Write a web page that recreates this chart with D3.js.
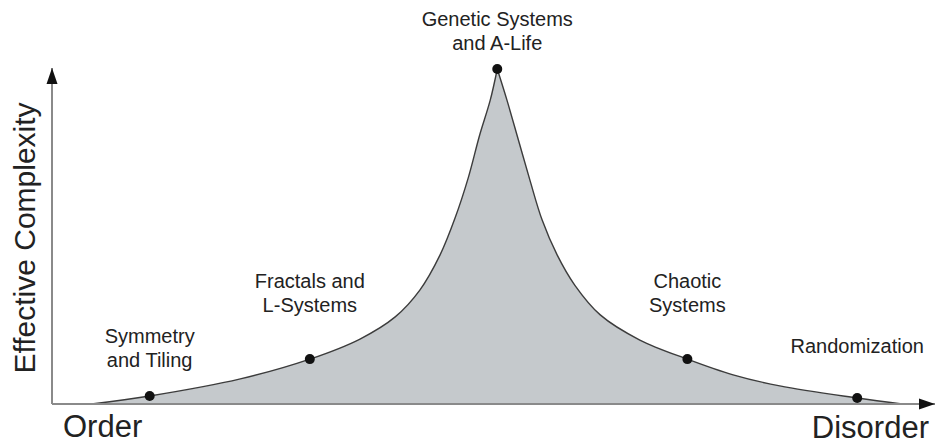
<!DOCTYPE html>
<html lang="en">
<head>
    <meta charset="UTF-8">
    <title>Effective Complexity</title>
    <script type="application/javascript" src="https://cdnjs.cloudflare.com/ajax/libs/d3/7.8.5/d3.min.js"></script>
    <style type="text/css">
        body { margin: 0; background: #fff; }
        svg { display: block; }
        text { font-family: "Liberation Sans", Arial, sans-serif; fill: #222; }
        .area { fill: #c5c9cc; }
        .edge { fill: none; stroke: #3c3c3c; stroke-width: 1.4; }
        .axis-line { stroke: #8a8a8a; stroke-width: 2; }
    </style>
</head>
<body>
<svg id="chart" width="936" height="443"></svg>
<script type="application/javascript">
    // order (0) -> disorder (100), effective complexity 0..100
    var orderLeft = [4.5, 11.1, 21.4, 29.3, 35.0, 39.0, 41.8, 44.1, 45.8, 47.3, 48.6, 49.8, 50.6];
    var complexityLeft = [0, 2.4, 7.5, 13.4, 19.4, 26.0, 34.0, 44.5, 55.5, 67.5, 80.3, 90.7, 100];
    var orderRight = [50.6, 51.7, 53.0, 54.3, 55.7, 57.4, 59.4, 62.3, 66.8, 72.2, 77.4, 82.7, 91.5, 96.6];
    var complexityRight = [100, 90.7, 78.8, 66.9, 54.9, 44.5, 35.5, 26.6, 19.1, 13.4, 8.7, 5.4, 1.8, 0];

    var milestoneNames = [
        ['Symmetry', 'and Tiling'],
        ['Fractals and', 'L-Systems'],
        ['Genetic Systems', 'and A-Life'],
        ['Chaotic', 'Systems'],
        ['Randomization']
    ];
    var milestoneOrder = [11.1, 29.3, 50.6, 72.2, 91.5];
    var milestoneComplexity = [2.4, 13.4, 100, 13.4, 1.8];

    var xAxisTitles = ['Order', 'Disorder'];
    var yAxisTitle = 'Effective Complexity';

    // layout: distance from point up to baseline of the last label line
    var labelLift = [29, 47, 19, 47, 45];
    var lineGap = 24;

    var svg = d3.select('#chart');
    var originX = 52, originY = 404;

    var x = d3.scaleLinear().domain([0, 100]).range([originX, 932]);
    var y = d3.scaleLinear().domain([0, 100]).range([originY, 69]);

    var defs = svg.append('defs');
    defs.append('marker')
        .attr('id', 'arrow')
        .attr('viewBox', '-16 -6 16 12')
        .attr('markerUnits', 'userSpaceOnUse')
        .attr('markerWidth', 16)
        .attr('markerHeight', 12)
        .attr('refX', 0)
        .attr('refY', 0)
        .attr('orient', 'auto')
        .append('path')
        .attr('d', 'M0,0L-16,-5.5L-16,5.5Z')
        .attr('fill', '#111');

    function toPoints(xs, ys) {
        return xs.map(function (d, i) { return [d, ys[i]]; });
    }

    // two smooth pieces joined at the sharp peak
    function joinedPath(segments) {
        var p = d3.path();
        var started = false;
        var ctx = {
            moveTo: function (a, b) {
                if (started) { p.lineTo(a, b); } else { p.moveTo(a, b); started = true; }
            },
            lineTo: function (a, b) { p.lineTo(a, b); },
            bezierCurveTo: function (a, b, c, d, e, f) { p.bezierCurveTo(a, b, c, d, e, f); },
            closePath: function () { p.closePath(); }
        };
        var line = d3.line()
            .x(function (d) { return x(d[0]); })
            .y(function (d) { return y(d[1]); })
            .curve(d3.curveCatmullRom.alpha(0.5))
            .context(ctx);
        segments.forEach(function (seg) { line(seg); });
        return p.toString();
    }

    var outline = joinedPath([
        toPoints(orderLeft, complexityLeft),
        toPoints(orderRight, complexityRight)
    ]);

    svg.append('path').attr('class', 'area').attr('d', outline + 'Z');
    svg.append('path').attr('class', 'edge').attr('d', outline);

    // axes
    svg.append('line').attr('class', 'axis-line')
        .attr('x1', originX).attr('y1', originY)
        .attr('x2', 935).attr('y2', originY)
        .attr('marker-end', 'url(#arrow)');
    svg.append('line').attr('class', 'axis-line')
        .attr('x1', originX).attr('y1', originY)
        .attr('x2', originX).attr('y2', 68)
        .attr('marker-end', 'url(#arrow)');

    // milestones
    var ms = milestoneNames.map(function (n, i) {
        return { lines: n, ox: milestoneOrder[i], oy: milestoneComplexity[i], lift: labelLift[i] };
    });

    svg.selectAll('.dot')
        .data(ms)
        .enter()
        .append('circle')
        .attr('class', 'dot')
        .attr('cx', function (d) { return x(d.ox); })
        .attr('cy', function (d) { return y(d.oy); })
        .attr('r', 5)
        .attr('fill', '#111');

    var labels = svg.selectAll('.label')
        .data(ms)
        .enter()
        .append('text')
        .attr('class', 'label')
        .attr('text-anchor', 'middle')
        .style('font-size', '20px');

    labels.selectAll('tspan')
        .data(function (d) {
            return d.lines.map(function (t, k) {
                return { t: t, px: x(d.ox), py: y(d.oy) - d.lift - (d.lines.length - 1 - k) * lineGap };
            });
        })
        .enter()
        .append('tspan')
        .attr('x', function (d) { return d.px; })
        .attr('y', function (d) { return d.py; })
        .text(function (d) { return d.t; });

    // axis titles
    svg.append('text')
        .attr('x', 63).attr('y', 437)
        .style('font-size', '31px')
        .text(xAxisTitles[0]);
    svg.append('text')
        .attr('x', 929).attr('y', 438)
        .attr('text-anchor', 'end')
        .style('font-size', '31px')
        .text(xAxisTitles[1]);
    svg.append('text')
        .attr('transform', 'translate(35,238) rotate(-90)')
        .attr('text-anchor', 'middle')
        .style('font-size', '30px')
        .text(yAxisTitle);
</script>
</body>
</html>
